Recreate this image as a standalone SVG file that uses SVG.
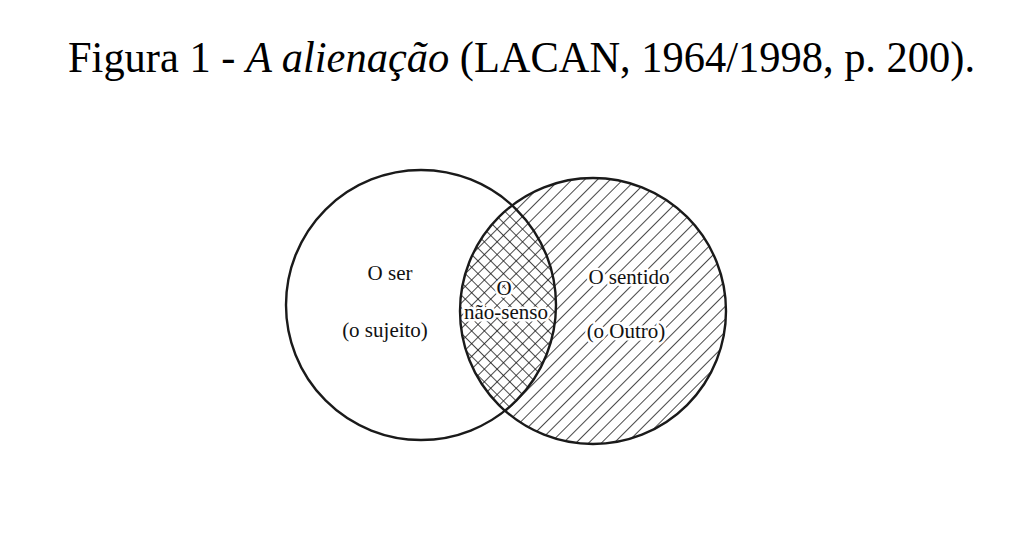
<svg xmlns="http://www.w3.org/2000/svg" width="1024" height="539" viewBox="0 0 1024 539">
<style>
.title{font-family:"Liberation Serif","Times New Roman",serif;font-size:45px;fill:#000}
.lbl{font-family:"Liberation Serif","Times New Roman",serif;font-size:21px;fill:#111;text-anchor:middle}
.halo{stroke:#fff;stroke-width:5px;paint-order:stroke;stroke-linejoin:round}
.circ{fill:none;stroke:#1a1a1a;stroke-width:2.4}
</style>
<defs>
<pattern id="hatch" patternUnits="userSpaceOnUse" width="9" height="9" patternTransform="rotate(45)">
<line x1="0" y1="-1" x2="0" y2="10" stroke="#1a1a1a" stroke-width="1.6"/>
</pattern>
<pattern id="hatch2" patternUnits="userSpaceOnUse" width="9" height="9" patternTransform="rotate(-45)">
<line x1="0" y1="-1" x2="0" y2="10" stroke="#1a1a1a" stroke-width="1.6"/>
</pattern>
<clipPath id="leftClip"><circle cx="421" cy="305" r="135"/></clipPath>
</defs>
<rect width="1024" height="539" fill="#fff"/>
<text class="title" x="68" y="72" textLength="907" lengthAdjust="spacingAndGlyphs">Figura 1 - <tspan font-family="Liberation Serif, serif" font-style="italic">A alienação</tspan> (LACAN, 1964/1998, p. 200).</text>
<g id="other">
<circle cx="593" cy="311" r="133" fill="url(#hatch)"/>
</g>
<g id="nonsense">
<circle cx="593" cy="311" r="133" fill="url(#hatch2)" clip-path="url(#leftClip)"/>
</g>
<g id="outlines">
<circle id="being" class="circ" cx="421" cy="305" r="135"/>
<circle id="meaning" class="circ" cx="593" cy="311" r="133"/>
</g>
<g id="labels">
<text class="lbl" x="390" y="280">O ser</text>
<text class="lbl" x="385" y="337">(o sujeito)</text>
<text class="lbl halo" x="504" y="295">O</text>
<text class="lbl halo" x="506" y="319">não-senso</text>
<text class="lbl halo" x="629" y="284">O sentido</text>
<text class="lbl halo" x="626" y="338">(o Outro)</text>
</g>
</svg>
